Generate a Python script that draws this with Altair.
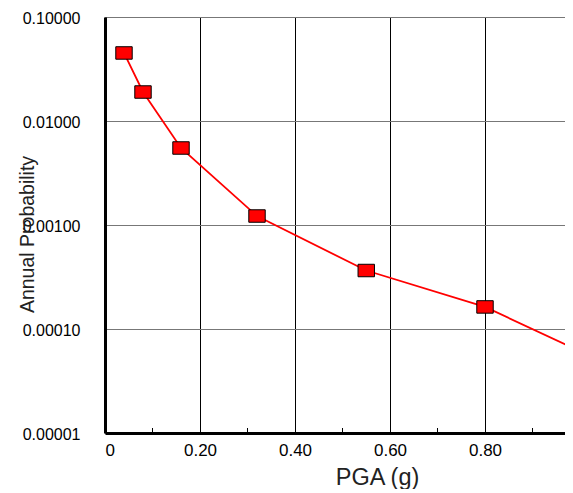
import altair as alt
import pandas as pd

# Data
pga = [0.04, 0.08, 0.16, 0.32, 0.55, 0.80, 1.00]
prob = [0.0451, 0.0190, 0.0055, 0.00122, 0.000365, 0.000163, 0.000061]
x_ticks = [0, 0.2, 0.4, 0.6, 0.8]
x_minor = [0.1, 0.3, 0.5, 0.7, 0.9]
y_ticks = [0.00001, 0.0001, 0.001, 0.01, 0.1]
x_max = 0.9684

df = pd.DataFrame({"pga": pga, "prob": prob})
minor_df = pd.DataFrame({"pga": x_minor})

xscale = alt.Scale(domain=[0, x_max], nice=False, zero=False)
yscale = alt.Scale(type="log", domain=[y_ticks[0], y_ticks[-1]], nice=False)

xaxis = alt.Axis(
    values=x_ticks,
    labelExpr="datum.value == 0 ? '0' : format(datum.value, '.2f')",
    grid=True, gridColor="black", gridWidth=1, gridOpacity=1,
    ticks=False,
    domainColor="black", domainWidth=3,
    labelFont="Liberation Sans", labelFontSize=17, labelColor="black",
    labelPadding=9,
    title="PGA (g)", titleFont="Liberation Sans", titleFontSize=23.5,
    titleFontWeight="normal", titleColor="#222222",
    titleX=272, titleY=51, titleAlign="center", titleBaseline="alphabetic",
)
yaxis = alt.Axis(
    values=y_ticks, format=".5f",
    grid=True, gridColor="#777777", gridWidth=1, gridOpacity=1,
    ticks=False,
    domainColor="black", domainWidth=3,
    labelFont="Liberation Sans", labelFontSize=16, labelColor="black",
    labelPadding=25, labelOffset=1.5,
    title="Annual Probability",
    titleFont="Liberation Sans", titleFontSize=19.5,
    titleFontWeight="normal", titleColor="#222222",
    titleX=-72, titleY=217, titleAngle=270, titleAlign="center",
    titleBaseline="alphabetic",
)

line = alt.Chart(df).mark_line(color="#ff0000", strokeWidth=1.8, clip=True).encode(
    x=alt.X("pga:Q", scale=xscale, axis=xaxis),
    y=alt.Y("prob:Q", scale=yscale, axis=yaxis),
)

minor = alt.Chart(minor_df).mark_tick(
    orient="vertical", size=10, thickness=1, color="black", opacity=1, clip=True
).encode(
    x=alt.X("pga:Q"),
    y=alt.datum(y_ticks[0]),
)

points = alt.Chart(df).mark_point(
    shape="M-1,-0.76L1,-0.76L1,0.76L-1,0.76Z",
    size=270, filled=True, fill="#ff0000", stroke="black",
    strokeWidth=1, opacity=1, clip=True,
).encode(x="pga:Q", y="prob:Q")

chart = (
    alt.layer(line, minor, points)
    .properties(
        width=460, height=416,
        padding={"left": 97, "top": 9, "right": 0, "bottom": 56},
        autosize=alt.AutoSizeParams(type="none"),
        background="white",
    )
    .configure_view(stroke=None)
)

chart.save("out.html", embed_options={"renderer": "svg", "actions": False})
